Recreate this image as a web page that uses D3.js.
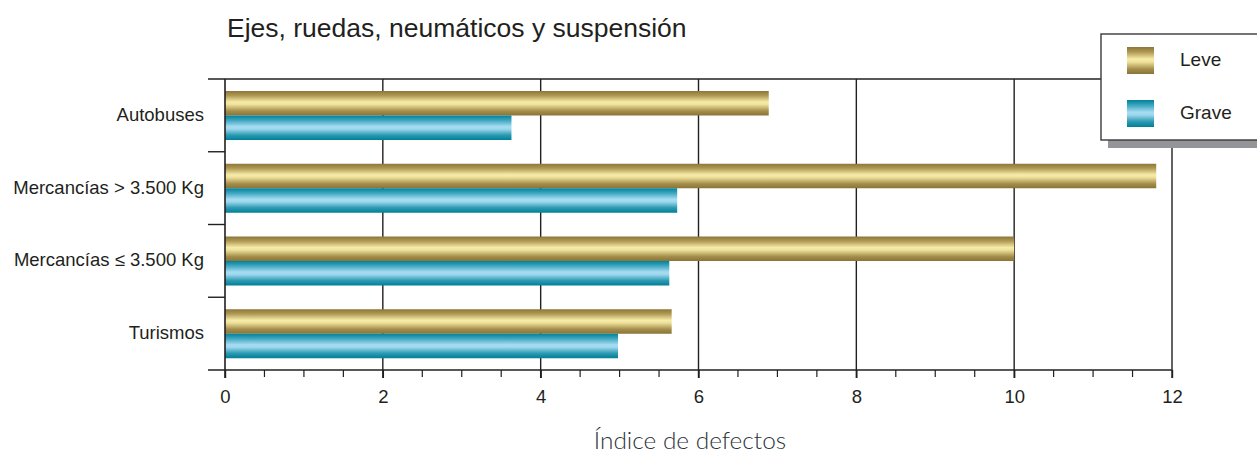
<!DOCTYPE html>
<html><head><meta charset="utf-8">
<script src="https://cdn.jsdelivr.net/npm/d3@7"></script>
<style>
html,body{margin:0;padding:0;background:#fff;}
svg{display:block;}
</style></head>
<body>
<svg id="chart" width="1257" height="453"></svg>
<script>
const categories = ["Autobuses", "Mercancías > 3.500 Kg", "Mercancías ≤ 3.500 Kg", "Turismos"];
const series = ["Leve", "Grave"];
const leveValues = [6.89, 11.8, 10.0, 5.66];
const graveValues = [3.63, 5.73, 5.63, 4.98];
const xTicks = [0, 2, 4, 6, 8, 10, 12];
const chartTitle = "Ejes, ruedas, neumáticos y suspensión";
const xTitle = "Índice de defectos";

(function () {
const data = categories.map((c, i) => ({cat: c, Leve: leveValues[i], Grave: graveValues[i]}));

const svg = d3.select("#chart");
const pL = 225, pR = 1172, pT = 79, pB = 370;

const x = d3.scaleLinear().domain([0, 12]).range([pL, pR]);
const y = d3.scaleBand().domain(categories).range([pT, pB]).padding(0);
const ys = d3.scaleBand().domain(series).range([12, 61]).padding(0);

const defs = svg.append("defs");
function grad(id, stops) {
  const g = defs.append("linearGradient").attr("id", id).attr("x1", 0).attr("y1", 0).attr("x2", 0).attr("y2", 1);
  stops.forEach(s => g.append("stop").attr("offset", s[0]).attr("stop-color", s[1]));
}
grad("gLeve", [[0, "#8c773a"], [0.18, "#ae9752"], [0.45, "#f6eca8"], [0.55, "#efe29c"], [0.82, "#a48d4b"], [1, "#8a7436"]]);
grad("gGrave", [[0, "#00829a"], [0.2, "#3fa6c0"], [0.45, "#a6dcf2"], [0.55, "#9fd8ee"], [0.8, "#2b9ab3"], [1, "#007f95"]]);
const fills = {Leve: "url(#gLeve)", Grave: "url(#gGrave)"};

svg.append("text").attr("x", 227).attr("y", 37).attr("font-family", "Liberation Sans, Arial, sans-serif")
  .attr("font-size", 26.5).attr("fill", "#231f20").text(chartTitle);

svg.append("g").selectAll("line").data(xTicks.filter(d => d > 0)).join("line")
  .attr("x1", d => x(d)).attr("x2", d => x(d))
  .attr("y1", pT).attr("y2", pB + 8)
  .attr("stroke", "#231f20").attr("stroke-width", 1.4);

const groups = svg.append("g").selectAll("g").data(data).join("g")
  .attr("transform", d => `translate(0,${y(d.cat)})`);
groups.selectAll("rect").data(d => series.map(s => ({s, v: d[s]}))).join("rect")
  .attr("x", x(0)).attr("y", d => ys(d.s))
  .attr("width", d => x(d.v) - x(0)).attr("height", ys.bandwidth())
  .attr("fill", d => fills[d.s]);

const seps = d3.range(categories.length + 1).map(i => pT + i * y.step());
svg.append("g").selectAll("line").data(seps.slice(1, -1)).join("line")
  .attr("x1", 208).attr("x2", pL).attr("y1", d => d).attr("y2", d => d)
  .attr("stroke", "#231f20").attr("stroke-width", 1.4);
svg.append("line").attr("x1", 208).attr("x2", pR).attr("y1", pT).attr("y2", pT)
  .attr("stroke", "#231f20").attr("stroke-width", 1.4);

svg.append("line").attr("x1", pL).attr("x2", pL).attr("y1", pT).attr("y2", pB + 8)
  .attr("stroke", "#231f20").attr("stroke-width", 1.6);

const xAxis = svg.append("g").attr("transform", `translate(0,${pB})`)
  .call(d3.axisBottom(x).tickValues(xTicks).tickSize(8).tickPadding(12).tickFormat(d3.format("d")));
xAxis.select(".domain").remove();
xAxis.selectAll(".tick line").attr("stroke", "#231f20").attr("stroke-width", 1.4);
xAxis.selectAll(".tick text").attr("font-family", "Liberation Sans, Arial, sans-serif").attr("font-size", 18.5).attr("fill", "#231f20");
svg.append("line").attr("x1", 208).attr("x2", pR).attr("y1", pB).attr("y2", pB)
  .attr("stroke", "#231f20").attr("stroke-width", 1.4);
const minor = d3.range(0.5, 12, 0.5).filter(v => v % 2 !== 0);
svg.append("g").selectAll("line").data(minor).join("line")
  .attr("x1", d => x(d)).attr("x2", d => x(d)).attr("y1", pB).attr("y2", pB + 7)
  .attr("stroke", "#231f20").attr("stroke-width", 1.2);

svg.append("g").selectAll("text").data(categories).join("text")
  .attr("x", 204).attr("y", d => y(d) + y.bandwidth() / 2 + 0.5)
  .attr("text-anchor", "end").attr("dominant-baseline", "middle")
  .attr("font-family", "Liberation Sans, Arial, sans-serif").attr("font-size", 18.5).attr("fill", "#231f20")
  .text(d => d);

svg.append("text").attr("x", 690).attr("y", 449).attr("text-anchor", "middle")
  .attr("font-family", "Lato, sans-serif").attr("font-weight", 300).attr("font-size", 24.4).attr("fill", "#2c3338")
  .text(xTitle);

const lg = svg.append("g");
lg.append("rect").attr("x", 1108).attr("y", 140).attr("width", 160).attr("height", 8).attr("fill", "#939598");
lg.append("rect").attr("x", 1101).attr("y", 34).attr("width", 170).attr("height", 106)
  .attr("fill", "#fff").attr("stroke", "#3a3a3a").attr("stroke-width", 1.4);
const li = lg.selectAll("g.item").data(series).join("g").attr("class", "item")
  .attr("transform", (d, i) => `translate(1127,${47 + i * 53})`);
li.append("rect").attr("width", 27).attr("height", 27).attr("fill", d => fills[d]);
li.append("text").attr("x", 53).attr("y", 14).attr("dominant-baseline", "middle")
  .attr("font-family", "Liberation Sans, Arial, sans-serif").attr("font-size", 19).attr("fill", "#231f20")
  .text(d => d);
})();
</script>
</body></html>
